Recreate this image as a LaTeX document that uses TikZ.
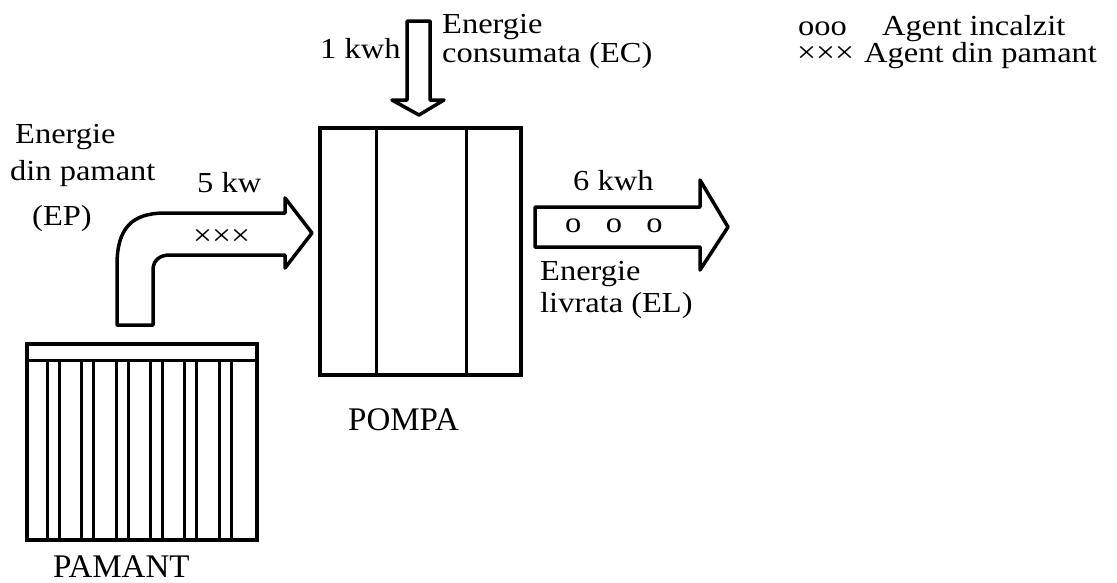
\documentclass[tikz,border=0pt]{standalone}
\usepackage{fontspec}
\setmainfont{Liberation Serif}
\newfontfamily\lblfont[FakeStretch=1.12]{Liberation Serif}
\tikzset{
	lbl/.style={font=\lblfont\fontsize{29}{33}\selectfont, inner sep=0pt, anchor=base west},
	crosses/.style={font=\lblfont\fontsize{30}{34}\selectfont, inner sep=0pt, anchor=base west},
	biglbl/.style={font=\fontsize{33}{38}\selectfont, inner sep=0pt, anchor=base west},
	box/.style={line width=4pt},
	bar/.style={line width=3pt},
	flow/.style={line width=3.5pt, line join=round}
}
\begin{document}
\begin{tikzpicture}[x=1pt, y=-1pt]
	\useasboundingbox (0,0) rectangle (1117,582);
	% pamant
	\draw[box] (27,344) rectangle (257,540);
	\draw[bar] (27,360) -- (257,360);
	\foreach \k in {0,...,5} {
		\draw[bar] ({47.5+34.3*\k},360) -- ({47.5+34.3*\k},540);
		\draw[bar] ({59.5+34.3*\k},360) -- ({59.5+34.3*\k},540);
	}
	\node[biglbl] (pamant) at (53,577) {PAMANT};
	% pompa
	\draw[box] (320,128) rectangle (521,375);
	\draw[bar] (376,128) -- (376,375);
	\draw[bar] (466,128) -- (466,375);
	\node[biglbl] (pompa) at (348,430) {POMPA};
	% bent arrow from the ground
	\draw[flow] (117,325) -- (117,265) .. controls (117,228) and (132,213) .. (165,213)
		-- (285,213) -- (285,198) -- (312,233) -- (285,268) -- (285,255) -- (170,255)
		.. controls (160,255) and (153,260) .. (153,270) -- (153,325) -- cycle;
	% consumed energy arrow
	\draw[flow] (407,21) -- (430,21) -- (430,100) -- (444,100) -- (419,115)
		-- (392,100) -- (407,100) -- cycle;
	% delivered energy arrow
	\draw[flow] (535,207) -- (700,207) -- (700,180) -- (728,227) -- (700,270)
		-- (700,247) -- (535,247) -- cycle;
	% labels
	\node[lbl] (ep1) at (15,143) {Energie};
	\node[lbl] (ep2) at (10,180) {din pamant};
	\node[lbl] (ep3) at (32,225) {(EP)};
	\node[lbl] (kw) at (197,192) {5 kw};
	\node[crosses] (xin) at (193,245) {×××};
	\node[lbl] (kwhin) at (320,58) {1 kwh};
	\node[lbl] (ec1) at (442,33) {Energie};
	\node[lbl] (ec2) at (442,62) {consumata (EC)};
	\node[lbl] (kwhout) at (573,190) {6 kwh};
	\node[lbl] (oout) at (565,232) {o~~~o~~~o};
	\node[lbl] (el1) at (540,280) {Energie};
	\node[lbl] (el2) at (540,312) {livrata (EL)};
	% legend
	\node[lbl] (lego) at (798,35) {ooo};
	\node[lbl] (lego2) at (882,35) {Agent incalzit};
	\node[crosses] (legx) at (797,62) {×××};
	\node[lbl] (legx2) at (864,62) {Agent din pamant};
\end{tikzpicture}
\end{document}
